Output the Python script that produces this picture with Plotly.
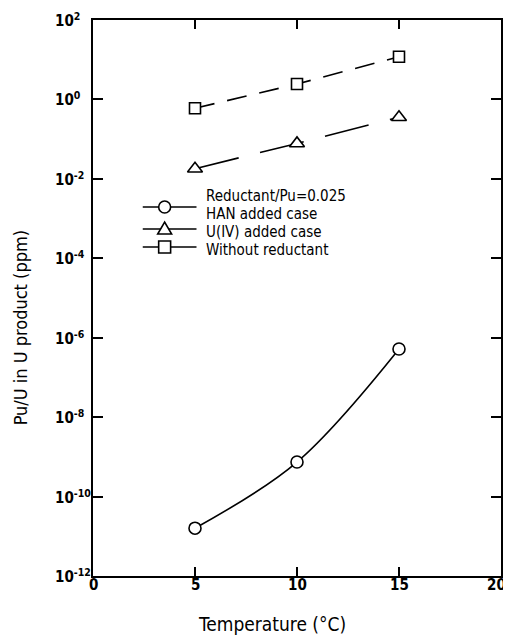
import plotly.graph_objects as go

# ---------------- data ----------------
temperature = [5, 10, 15]
han_added = [1.6e-11, 7.4e-10, 5.2e-7]
u4_added = [0.018, 0.078, 0.355]
without_reductant = [0.60, 2.44, 11.9]

x_tick_vals = [0, 5, 10, 15, 20]
x_tick_text = ["0", "5", "10", "15", "20"]
y_tick_exp = [2, 0, -2, -4, -6, -8, -10, -12]
y_tick_text = ["10<sup>2</sup>", "10<sup>0</sup>", "10<sup>-2</sup>", "10<sup>-4</sup>",
               "10<sup>-6</sup>", "10<sup>-8</sup>", "10<sup>-10</sup>", "10<sup>-12</sup>"]

legend_title = "Reductant/Pu=0.025"
legend_labels = ["HAN added case", "U(IV) added case", "Without reductant"]

# ---------------- layout geometry ----------------
# The page body has an 8px margin, so the figure is made 8px smaller and
# margins compensate; page-pixel helpers below map to paper coordinates.
OFF = 8
W, H = 511 - OFF, 636 - OFF
L, R, T, B = 93 - OFF, 8, 20 - OFF, 60
PLOT_X0, PLOT_X1 = 93, 503
PLOT_Y0, PLOT_Y1 = 20, 576
FONT = "Liberation Sans Narrow, DejaVu Sans Condensed, Arial Narrow, sans-serif"


def px(xp):
    return (xp - PLOT_X0) / (PLOT_X1 - PLOT_X0)


def py(yp):
    return (PLOT_Y1 - yp) / (PLOT_Y1 - PLOT_Y0)


fig = go.Figure()

common_line = dict(color="black", width=1.6)
fig.add_trace(go.Scatter(
    x=temperature, y=han_added, mode="lines+markers",
    line=dict(shape="spline", smoothing=1.0, **common_line),
    marker=dict(symbol="circle", size=12, color="white", line=dict(color="black", width=1.6)),
    showlegend=False, name=legend_labels[0]))
fig.add_trace(go.Scatter(
    x=temperature, y=u4_added, mode="lines+markers",
    line=dict(dash="45px,22px", **common_line),
    marker=dict(symbol="triangle-up", size=13, color="white", line=dict(color="black", width=1.6)),
    showlegend=False, name=legend_labels[1]))
fig.add_trace(go.Scatter(
    x=temperature, y=without_reductant, mode="lines+markers",
    line=dict(dash="20px,13px", **common_line),
    marker=dict(symbol="square", size=11, color="white", line=dict(color="black", width=1.6)),
    showlegend=False, name=legend_labels[2]))

annotations = []
tick_font = dict(family=FONT, size=15, color="black", weight="bold")
# y tick labels (left aligned, like the reference)
for e, t in zip(y_tick_exp, y_tick_text):
    annotations.append(dict(x=px(53), xref="paper", y=e, yref="y", text=t,
                            xanchor="left", yanchor="middle", showarrow=False,
                            font=tick_font))
# x tick labels (the last one kept inside the page edge)
for v, t in zip(x_tick_vals, x_tick_text):
    last = v == x_tick_vals[-1]
    annotations.append(dict(x=px(510) if last else v, xref="paper" if last else "x",
                            y=py(585), yref="paper", text=t,
                            xanchor="right" if last else "center", yanchor="middle",
                            showarrow=False, font=tick_font))

# axis titles
annotations.append(dict(x=px(20), y=py(328), xref="paper", yref="paper",
                        text="Pu/U in U product (ppm)", textangle=-90, showarrow=False,
                        xanchor="center", yanchor="middle",
                        font=dict(family=FONT, size=18, color="black")))
annotations.append(dict(x=px(273), y=py(624), xref="paper", yref="paper",
                        text="Temperature (°C)", showarrow=False,
                        xanchor="center", yanchor="middle",
                        font=dict(family=FONT, size=19, color="black")))

# legend texts
leg_text_y = [196, 214, 232, 250]
for t, yy in zip([legend_title] + legend_labels, leg_text_y):
    annotations.append(dict(x=px(205), y=py(yy), xref="paper", yref="paper", text=t,
                            showarrow=False, xanchor="left", yanchor="middle",
                            font=dict(family=FONT, size=15, color="black")))

# legend glyphs
shapes = []
glyph_y = [207, 229, 247]
for gy in glyph_y:
    shapes.append(dict(type="line", xref="paper", yref="paper",
                       x0=px(143), x1=px(197), y0=py(gy), y1=py(gy),
                       line=dict(color="black", width=1.6)))
cx = 165
r = 6
shapes.append(dict(type="circle", xref="paper", yref="paper",
                   x0=px(cx - r), x1=px(cx + r), y0=py(glyph_y[0] + r), y1=py(glyph_y[0] - r),
                   line=dict(color="black", width=1.6), fillcolor="white"))
ty = glyph_y[1]
shapes.append(dict(type="path", xref="paper", yref="paper",
                   path="M %f,%f L %f,%f L %f,%f Z" % (px(cx - 7), py(ty + 5), px(cx + 7), py(ty + 5),
                                                       px(cx), py(ty - 7)),
                   line=dict(color="black", width=1.6), fillcolor="white"))
sy = glyph_y[2]
shapes.append(dict(type="rect", xref="paper", yref="paper",
                   x0=px(cx - 6), x1=px(cx + 6), y0=py(sy + 6), y1=py(sy - 6),
                   line=dict(color="black", width=1.6), fillcolor="white"))

fig.update_layout(
    width=W, height=H,
    margin=dict(l=L, r=R, t=T, b=B, pad=0),
    paper_bgcolor="white", plot_bgcolor="white",
    showlegend=False,
    annotations=annotations, shapes=shapes,
    font=dict(family=FONT, color="black", size=15),
    xaxis=dict(range=[0, 20], tickvals=[5, 10, 15], showticklabels=False,
               ticks="inside", ticklen=9, tickwidth=1.5, tickcolor="black",
               showline=True, linewidth=2, linecolor="black", mirror="ticks",
               showgrid=False, zeroline=False),
    yaxis=dict(type="log", range=[-12, 2], tickvals=[10.0 ** e for e in y_tick_exp],
               showticklabels=False,
               ticks="inside", ticklen=10, tickwidth=1.5, tickcolor="black",
               showline=True, linewidth=2, linecolor="black", mirror="ticks",
               showgrid=False, zeroline=False),
)

fig.write_html("out.html")
